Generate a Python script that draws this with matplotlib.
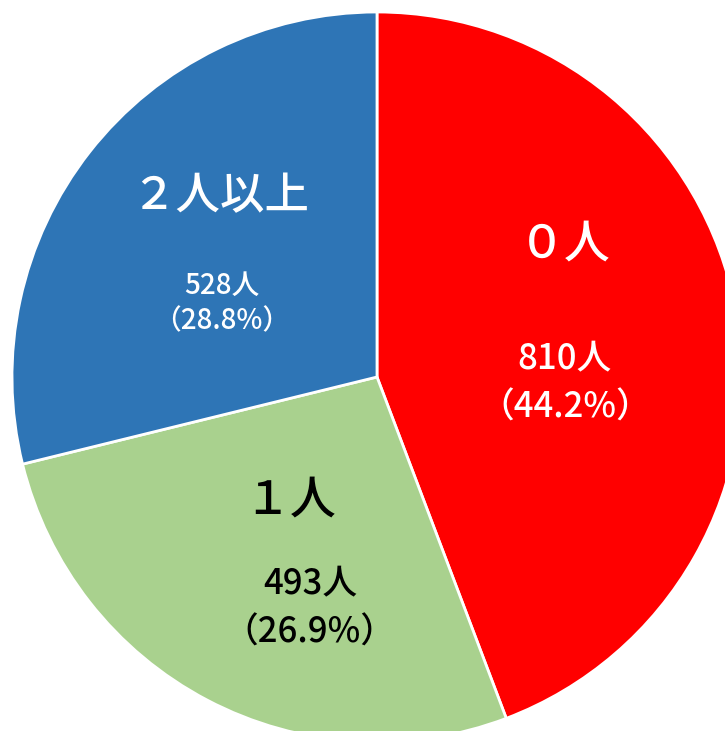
import matplotlib
matplotlib.use('Agg')
import matplotlib.pyplot as plt

plt.rcParams['font.family'] = ['Noto Sans CJK JP', 'DejaVu Sans']

# data
labels = ['０人', '１人', '２人以上']
counts = [810, 493, 528]
percents = [44.2, 26.9, 28.8]
colors = ['#FF0000', '#A9D18E', '#2E75B6']
text_colors = ['white', 'black', 'white']

# label placement (data coords, pie radius = 1)
title_pos = [(0.515, 0.364), (-0.238, -0.337), (-0.430, 0.493)]
value_pos = [(0.515, -0.017), (-0.184, -0.634), (-0.425, 0.202)]
title_size = [33, 33, 32]
value_size = [25, 25, 20]
value_spacing = [1.45, 1.45, 1.3]

fig = plt.figure(figsize=(7.25, 7.31), dpi=100)
ax = fig.add_axes([0, 0, 1, 1])

ax.pie(counts, colors=colors, startangle=90, counterclock=False, radius=1,
       wedgeprops=dict(edgecolor='white', linewidth=2))

for i in range(len(labels)):
    ax.text(title_pos[i][0], title_pos[i][1], labels[i], color=text_colors[i],
            fontsize=title_size[i], ha='center', va='center', fontweight='medium')
    ax.text(value_pos[i][0], value_pos[i][1],
            '%d人\n（%.1f%%）' % (counts[i], percents[i]), color=text_colors[i],
            fontsize=value_size[i], ha='center', va='center',
            linespacing=value_spacing[i], fontweight='medium')

ax.set_xlim(-377 / 365, (725 - 377) / 365)
ax.set_ylim(-(731 - 377) / 365, 377 / 365)
ax.set_aspect('auto')
ax.axis('off')

plt.savefig('out.png', dpi=100)
